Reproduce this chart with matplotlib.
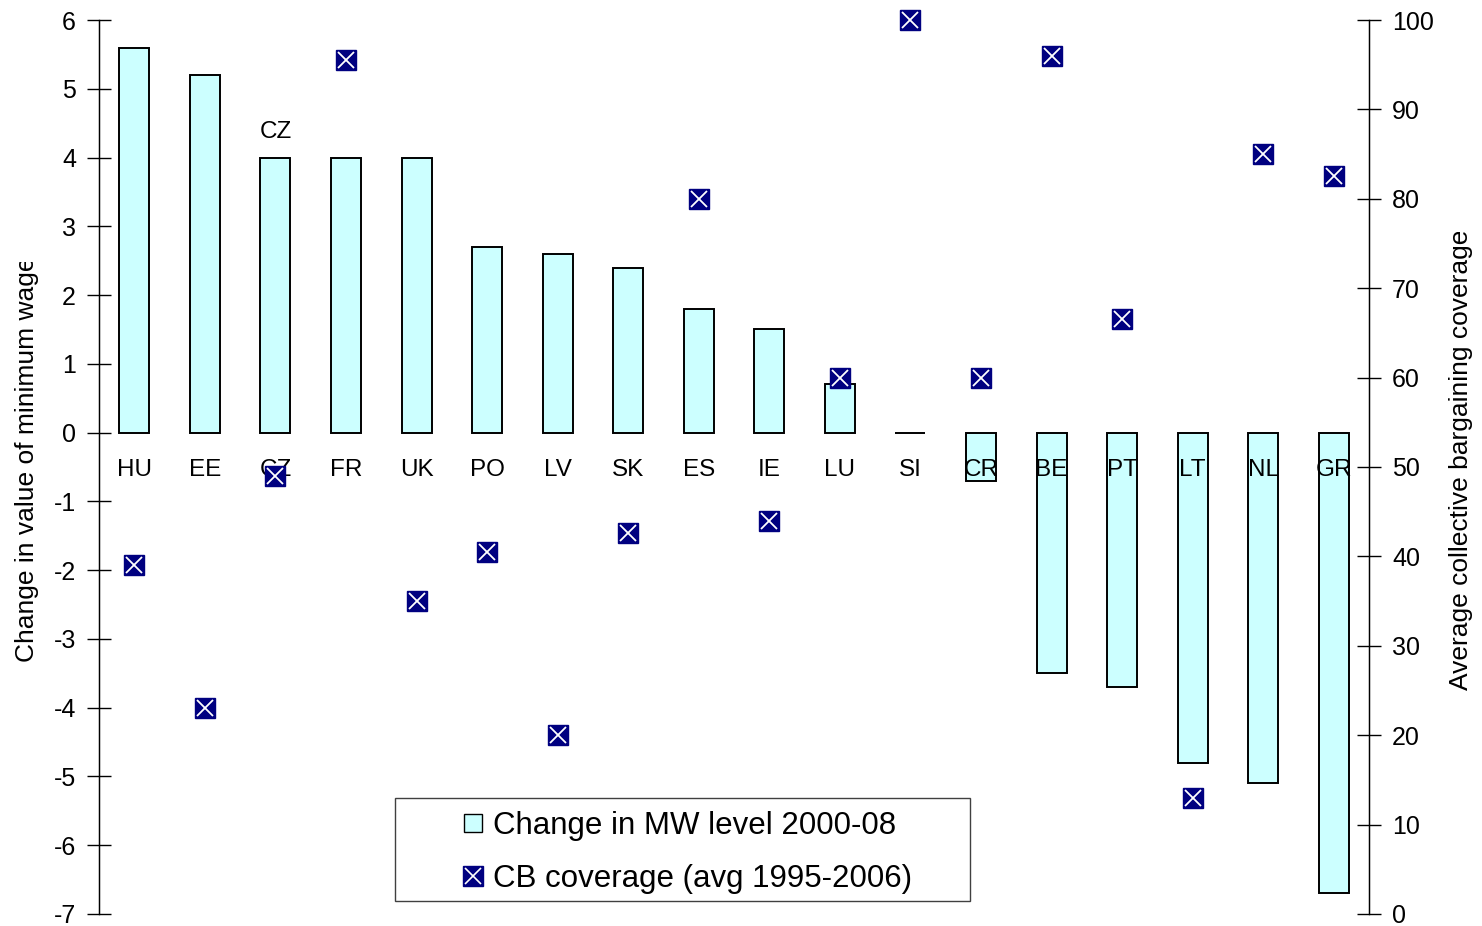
import matplotlib
matplotlib.use("Agg")
import matplotlib.pyplot as plt
from matplotlib.patches import Rectangle
from matplotlib.lines import Line2D
from matplotlib.transforms import Bbox, TransformedBbox

plt.rcParams["font.family"] = ["Liberation Sans", "DejaVu Sans"]
plt.rcParams["axes.unicode_minus"] = False

countries = ["HU", "EE", "CZ", "FR", "UK", "PO", "LV", "SK", "ES", "IE",
             "LU", "SI", "CR", "BE", "PT", "LT", "NL", "GR"]
mw_change = [5.6, 5.2, 4.0, 4.0, 4.0, 2.7, 2.6, 2.4, 1.8, 1.5,
             0.7, 0.0, -0.7, -3.5, -3.7, -4.8, -5.1, -6.7]
cb_coverage = [39, 23, 49, 95.5, 35, 40.5, 20, 42.6, 80, 44,
               60, 100, 60, 96, 66.5, 13, 85, 82.5]

fig = plt.figure(figsize=(14.82, 9.26), dpi=100)
ax = fig.add_axes([0.0668, 0.013, 0.857, 0.9654])
ax2 = ax.twinx()

x = list(range(len(countries)))
ax.bar(x, mw_change, width=0.425, color="#CCFFFF", edgecolor="black",
       linewidth=1.4, zorder=2)
ax.set_xlim(-0.5, 17.5)
ax.set_ylim(-7, 6)
ax.set_yticks(range(-7, 7))
ax2.set_ylim(0, 100)
ax2.set_yticks(range(0, 101, 10))

for i, c in enumerate(countries):
    ax.text(i, -0.55, c, ha="center", va="center", fontsize=17.5, zorder=3)
ax.text(2, 4.37, "CZ", ha="center", va="center", fontsize=17.5)

ax2.plot(x, cb_coverage, ls="none", marker="s", ms=14, mfc="#000080",
         mec="#000080", zorder=4, clip_on=False)
ax2.plot(x, cb_coverage, ls="none", marker="x", ms=11, mec="white",
         mew=1.3, zorder=5, clip_on=False)

for a in (ax, ax2):
    a.spines["top"].set_visible(False)
    a.spines["bottom"].set_visible(False)
    a.tick_params(axis="y", direction="inout", length=17, width=1,
                  labelsize=18, pad=8)
    a.set_xticks([])
ax.spines["left"].set_linewidth(1)
ax2.spines["right"].set_linewidth(1)

# axis titles, cut off at the top as in the original
t1 = fig.text(0.018, 0.285, "Change in value of minimum wage", rotation=90,
              ha="center", va="bottom", fontsize=19)
t1.set_clip_box(TransformedBbox(Bbox([[0, 0], [0.1, 1 - 262 / 926]]),
                                fig.transFigure))
t1.set_clip_on(True)
t2 = fig.text(0.986, 0.255, "Average collective bargaining coverage",
              rotation=90, ha="center", va="bottom", fontsize=19)
t2.set_clip_box(TransformedBbox(Bbox([[0.9, 0], [1, 1 - 232 / 926]]),
                                fig.transFigure))
t2.set_clip_on(True)

# legend box
ax2.add_patch(Rectangle((0.233, 0.0145), 0.453, 0.115, transform=ax2.transAxes,
                        fill=False, edgecolor="#404040", linewidth=1, zorder=6,
                        clip_on=False))
h_bar = Line2D([], [], ls="none", marker="s", ms=13, mfc="#CCFFFF", mec="black")
h_sq = Line2D([], [], ls="none", marker="s", ms=15, mfc="#000080", mec="#000080")
h_x = Line2D([], [], ls="none", marker="x", ms=12, mec="white", mew=1.2)
leg = ax2.legend([h_bar, (h_sq, h_x)],
                 ["Change in MW level 2000-08", "CB coverage (avg 1995-2006)"],
                 loc="center", bbox_to_anchor=(0.4624, 0.0687), frameon=False,
                 fontsize=22.5, handlelength=0.8, handletextpad=0.25,
                 labelspacing=0.75)

fig.savefig("out.png", dpi=100)
